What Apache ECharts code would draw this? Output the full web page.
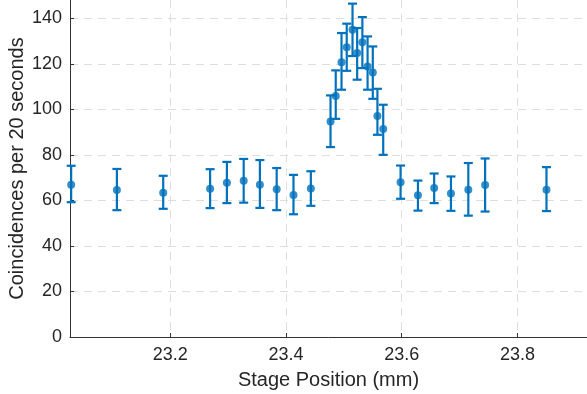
<!DOCTYPE html>
<html>
<head>
<meta charset="utf-8">
<script src="https://cdn.jsdelivr.net/npm/echarts@6/dist/echarts.min.js"></script>
<style>
  html, body { margin: 0; padding: 0; background: #fff; }
  #chart { width: 587px; height: 394px; }
</style>
</head>
<body>
<div id="chart"></div>
<script>
// stage position (mm)
const positions = [23.029, 23.108, 23.188, 23.269, 23.298, 23.327, 23.355, 23.384, 23.413, 23.443,
  23.477, 23.486, 23.496, 23.505, 23.515, 23.523, 23.532, 23.541, 23.550, 23.558, 23.568,
  23.598, 23.628, 23.656, 23.685, 23.715, 23.744, 23.850];
// coincidences per 20 s
const counts = [66.9, 64.6, 63.4, 65.1, 67.7, 68.6, 66.9, 64.9, 62.4, 65.2,
  94.6, 105.8, 120.7, 127.2, 134.9, 124.7, 129.4, 118.8, 116.2, 97.1, 91.3,
  68.0, 62.3, 65.4, 63.0, 64.7, 66.8, 64.7];
// error bar ends
const lower = [59.2, 55.7, 56.3, 56.6, 58.8, 59.0, 56.7, 55.7, 53.9, 57.6,
  83.4, 95.8, 108.6, 116.9, 123.4, 113.0, 118.1, 108.6, 104.6, 88.8, 80.0,
  60.7, 55.5, 58.8, 55.4, 53.3, 55.1, 55.3];
const upper = [75.2, 73.8, 70.8, 73.7, 76.9, 78.2, 77.7, 74.2, 71.2, 72.8,
  106.1, 117.1, 133.5, 137.6, 146.4, 135.7, 140.5, 132.0, 127.6, 109.0, 102.0,
  75.3, 68.7, 71.8, 70.5, 76.4, 78.4, 74.6];

const xTicks = [23.2, 23.4, 23.6, 23.8];
const yTicks = [0, 20, 40, 60, 80, 100, 120, 140];

const blue = '#0072BD';
const ink = '#262626';
const font = '"Liberation Sans", Arial, Helvetica, sans-serif';

const chart = echarts.init(document.getElementById('chart'));

const gridLine = { show: true, lineStyle: { color: '#dedede', type: [8, 6], width: 1 } };

chart.setOption({
  backgroundColor: '#fff',
  animation: false,
  grid: { left: 70, right: 0, top: 0, bottom: 57, containLabel: false, outerBoundsMode: 'none' },
  xAxis: {
    type: 'value',
    min: 23.027,
    max: 23.92,
    name: 'Stage Position (mm)',
    nameLocation: 'middle',
    nameGap: 33,
    nameMoveOverlap: false,
    nameTextStyle: { color: ink, fontSize: 20, fontFamily: font },
    axisLine: { show: true, onZero: false, lineStyle: { color: '#333', width: 1 } },
    axisTick: { show: true, inside: true, length: 4, customValues: xTicks, lineStyle: { color: '#333' } },
    axisLabel: { customValues: xTicks, color: ink, fontSize: 18, fontFamily: font, margin: 9,
      formatter: v => v.toFixed(1) },
    splitLine: gridLine
  },
  yAxis: {
    type: 'value',
    min: 0,
    max: 148,
    name: 'Coincidences per 20 seconds',
    nameLocation: 'middle',
    nameGap: 43,
    nameMoveOverlap: false,
    nameTextStyle: { color: ink, fontSize: 20, fontFamily: font },
    axisLine: { show: true, lineStyle: { color: '#333', width: 1 } },
    axisTick: { show: true, inside: true, length: 4, customValues: yTicks, lineStyle: { color: '#333' } },
    axisLabel: { customValues: yTicks, color: ink, fontSize: 18, fontFamily: font, margin: 8 },
    splitLine: gridLine
  },
  series: [
    {
      type: 'custom',
      data: positions.map((x, i) => [x, lower[i], upper[i]]),
      renderItem: (params, api) => {
        const x = api.value(0);
        const top = api.coord([x, api.value(2)]);
        const bot = api.coord([x, api.value(1)]);
        const w = 4.5;
        const style = { stroke: blue, lineWidth: 2.2 };
        return {
          type: 'group',
          children: [
            { type: 'line', shape: { x1: top[0], y1: top[1], x2: bot[0], y2: bot[1] }, style },
            { type: 'line', shape: { x1: top[0] - w, y1: top[1], x2: top[0] + w, y2: top[1] }, style },
            { type: 'line', shape: { x1: bot[0] - w, y1: bot[1], x2: bot[0] + w, y2: bot[1] }, style }
          ]
        };
      },
      z: 2
    },
    {
      type: 'scatter',
      data: positions.map((x, i) => [x, counts[i]]),
      symbol: 'circle',
      symbolSize: 8,
      itemStyle: { color: blue },
      z: 3
    }
  ]
});
</script>
</body>
</html>
